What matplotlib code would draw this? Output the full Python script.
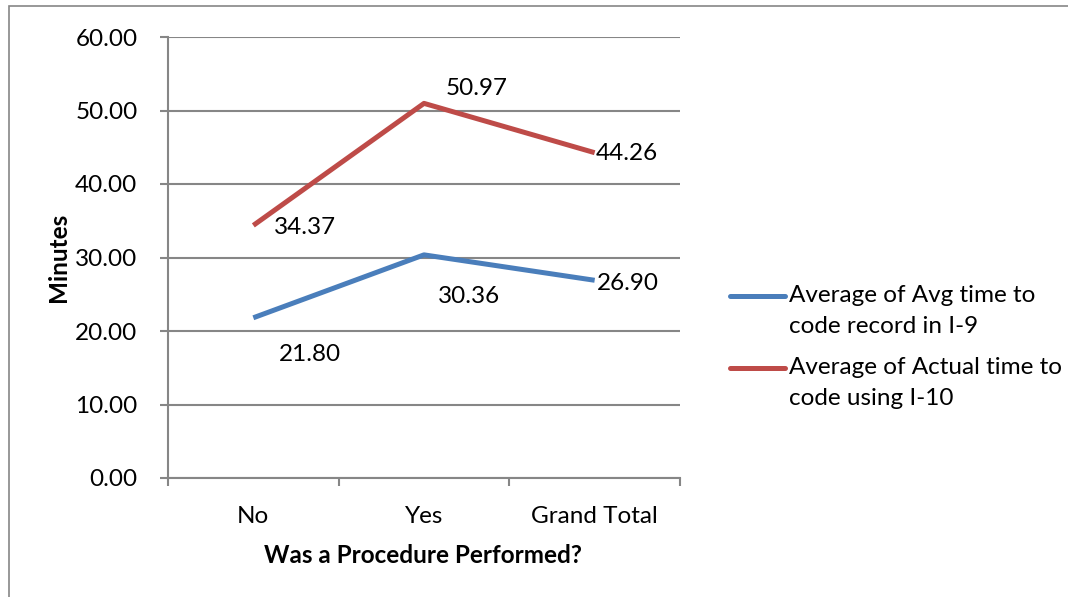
import matplotlib
matplotlib.use("Agg")
import matplotlib.pyplot as plt
from matplotlib.lines import Line2D
from matplotlib.patches import Rectangle
import numpy as np

categories = ["No", "Yes", "Grand Total"]
avg_i9 = [21.80, 30.36, 26.90]
actual_i10 = [34.37, 50.97, 44.26]
series_names = ["Average of Avg time to\ncode record in I-9",
                "Average of Actual time to\ncode using I-10"]
yticks = [0, 10, 20, 30, 40, 50, 60]

blue = "#4A7EBB"
red = "#BE4B48"
grid_c = "#868686"
fs = 17.5

plt.rcParams["font.family"] = ["Lato", "DejaVu Sans"]
W, H = 1068, 597
fig = plt.figure(figsize=(W / 100, H / 100), dpi=100)

def fx(px):
    return px / W

def fy(py):
    return 1 - py / H

ax = fig.add_axes([fx(168), fy(478), fx(680) - fx(168), fy(37) - fy(478)])
x = np.arange(len(categories))

ax.plot(x, avg_i9, color=blue, lw=3.6, solid_capstyle="butt")
ax.plot(x, actual_i10, color=red, lw=3.6, solid_capstyle="butt")

# data labels, offsets in pixels like the original layout
blue_off = [(57, -37), (45, -42), (33, -3)]
red_off = [(52, -2), (53, 15), (32, -1)]
for i in range(len(categories)):
    ax.annotate("%.2f" % avg_i9[i], (x[i], avg_i9[i]), xytext=blue_off[i],
                textcoords="offset pixels", ha="center", va="center", fontsize=fs)
    ax.annotate("%.2f" % actual_i10[i], (x[i], actual_i10[i]), xytext=red_off[i],
                textcoords="offset pixels", ha="center", va="center", fontsize=fs)

ax.set_xlim(-0.5, len(categories) - 0.5)
ax.set_ylim(0, 60)
ax.set_yticks(yticks)
ax.set_yticklabels(["%.2f" % v for v in yticks], fontsize=fs)
ax.yaxis.grid(True, color=grid_c, lw=1.5)
ax.set_axisbelow(True)

ax.set_xticks(x)
ax.set_xticklabels(categories, fontsize=fs)
ax.set_xticks(np.arange(len(categories) + 1) - 0.5, minor=True)
ax.tick_params(axis="x", which="major", length=0, pad=20)
ax.tick_params(axis="x", which="minor", length=6, width=1.5, color=grid_c, direction="out")
ax.tick_params(axis="y", length=6, width=1.5, color=grid_c, pad=16)

for s in ["top", "right"]:
    ax.spines[s].set_visible(False)
for s in ["left", "bottom"]:
    ax.spines[s].set_color(grid_c)
    ax.spines[s].set_linewidth(1.5)

ax.set_ylabel("Minutes", fontsize=fs, fontweight="bold")
ax.yaxis.set_label_coords((70 - 168) / 512, 0.5)
ax.set_xlabel("Was a Procedure Performed?", fontsize=fs, fontweight="bold")
ax.xaxis.set_label_coords(0.498, (478 - 544) / 441)

# legend drawn by hand so the line sits beside the first text line
for name, c, py in [(series_names[0], blue, 296), (series_names[1], red, 368)]:
    fig.add_artist(Line2D([fx(730), fx(785)], [fy(py), fy(py)], color=c, lw=3.6,
                          solid_capstyle="round", transform=fig.transFigure))
    fig.text(fx(789), fy(py - 11), name, fontsize=fs, va="top", ha="left",
             linespacing=1.6)

fig.add_artist(Rectangle((fx(9), fy(640)), 1.2, fy(6) - fy(640), fill=False,
                         edgecolor=grid_c, lw=1.2, transform=fig.transFigure))

fig.savefig("out.png", dpi=100)
